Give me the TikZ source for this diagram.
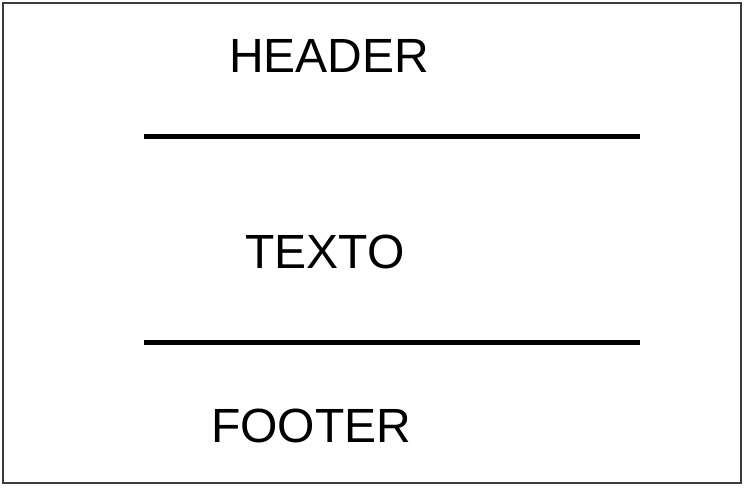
\documentclass[tikz,border=0pt]{standalone}
\usepackage{fontspec}
\setmainfont{Liberation Sans}
\begin{document}
\begin{tikzpicture}[x=1pt,y=1pt,
  lbl/.style={anchor=base west,inner sep=0pt,font=\fontsize{48}{48}\selectfont},
  rule/.style={line width=4.6pt,black},
  frame/.style={line width=2.4pt,draw={rgb,255:red,60;green,60;blue,60}}]
\useasboundingbox (0,0) rectangle (746,488);
\fill[white] (0,0) rectangle (746,488);
\draw[frame] (3,5) rectangle (741,485);
\node[lbl] (header) at (229,415) {HEADER};
\node[lbl] (texto) at (245,220) {TEXTO};
\node[lbl] (footer) at (211,46) {FOOTER};
\coordinate (r1a) at (144,351.5);
\coordinate (r1b) at (640,351.5);
\coordinate (r2a) at (144,145.5);
\coordinate (r2b) at (640,145.5);
\draw[rule] (r1a) -- (r1b);
\draw[rule] (r2a) -- (r2b);
\end{tikzpicture}
\end{document}
